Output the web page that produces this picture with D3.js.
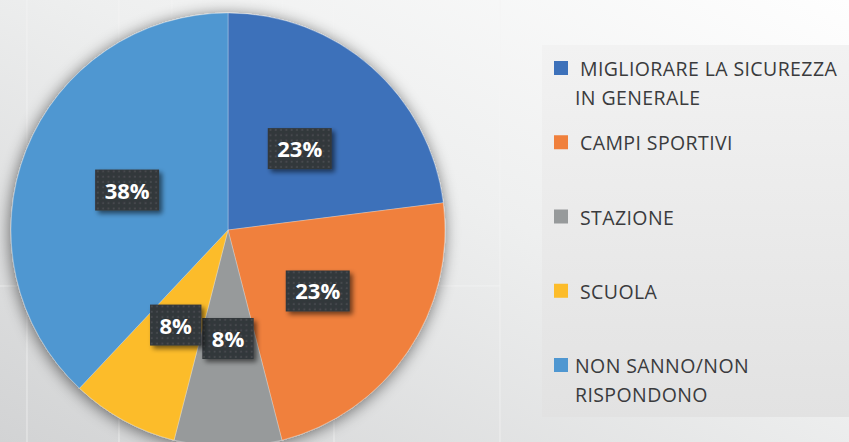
<!DOCTYPE html>
<html>
<head>
<meta charset="utf-8">
<script src="https://cdn.jsdelivr.net/npm/d3@7"></script>
<style>
  html, body { margin: 0; padding: 0; background: #eeeeee; }
  svg { display: block; }
</style>
</head>
<body>
<svg id="chart" width="849" height="442"></svg>
<script>
// Survey answers: what should be improved
const categories = [
  "MIGLIORARE LA SICUREZZA|IN GENERALE",
  "CAMPI SPORTIVI",
  "STAZIONE",
  "SCUOLA",
  "NON SANNO/NON|RISPONDONO"
];
const values = [23, 23, 8, 8, 38];
const valueLabels = ["23%", "23%", "8%", "8%", "38%"];
const colors = ["#3d71ba", "#f0803c", "#979a9b", "#fcbc2a", "#4f97d1"];

const W = 849, H = 442;
const svg = d3.select("#chart");
const defs = svg.append("defs");

// page background: light at top-right, greyer towards bottom-left
const bg = defs.append("linearGradient").attr("id", "bg")
  .attr("x1", "1").attr("y1", "0").attr("x2", "0").attr("y2", "1");
bg.append("stop").attr("offset", "0").attr("stop-color", "#fefefe");
bg.append("stop").attr("offset", "0.45").attr("stop-color", "#eeefef");
bg.append("stop").attr("offset", "1").attr("stop-color", "#d2d3d4");

const lg = defs.append("linearGradient").attr("id", "legbg")
  .attr("x1", "0").attr("y1", "0").attr("x2", "0").attr("y2", "1");
lg.append("stop").attr("offset", "0").attr("stop-color", "#f2f2f2");
lg.append("stop").attr("offset", "1").attr("stop-color", "#e2e2e2");

// soft halo under the pie
const halo = defs.append("filter").attr("id", "halo")
  .attr("x", "-20%").attr("y", "-20%").attr("width", "140%").attr("height", "140%");
halo.append("feGaussianBlur").attr("in", "SourceAlpha").attr("stdDeviation", 8).attr("result", "b");
halo.append("feOffset").attr("in", "b").attr("dx", -1).attr("dy", 2).attr("result", "o");
halo.append("feComponentTransfer").attr("in", "o").attr("result", "s")
  .append("feFuncA").attr("type", "linear").attr("slope", 0.55);
const hm = halo.append("feMerge");
hm.append("feMergeNode").attr("in", "s");
hm.append("feMergeNode").attr("in", "SourceGraphic");

// shadow for value boxes
const bs = defs.append("filter").attr("id", "boxshadow")
  .attr("x", "-30%").attr("y", "-30%").attr("width", "170%").attr("height", "170%");
bs.append("feGaussianBlur").attr("in", "SourceAlpha").attr("stdDeviation", 2.5).attr("result", "b");
bs.append("feOffset").attr("in", "b").attr("dx", 3).attr("dy", 3).attr("result", "o");
bs.append("feComponentTransfer").attr("in", "o").attr("result", "s")
  .append("feFuncA").attr("type", "linear").attr("slope", 0.55);
const bm = bs.append("feMerge");
bm.append("feMergeNode").attr("in", "s");
bm.append("feMergeNode").attr("in", "SourceGraphic");

// dotted texture on value boxes
const pat = defs.append("pattern").attr("id", "dots")
  .attr("patternUnits", "userSpaceOnUse").attr("width", 5.3).attr("height", 5.3);
pat.append("rect").attr("width", 5.3).attr("height", 5.3).attr("fill", "#33373b");
pat.append("rect").attr("x", 1.6).attr("y", 1.6).attr("width", 1.8).attr("height", 1.8).attr("fill", "#484c50");

svg.append("rect").attr("width", W).attr("height", H).attr("fill", "url(#bg)");

// faint grid of the underlying sheet
const gridX = [27, 119, 172, 283, 334, 500];
const gridY = [286];
svg.append("g").selectAll("line").data(gridX).join("line")
  .attr("x1", d => d).attr("x2", d => d).attr("y1", 0).attr("y2", H)
  .attr("stroke", "#f4f4f4").attr("stroke-width", 1).attr("opacity", 0.7);
svg.append("g").selectAll("line").data(gridY).join("line")
  .attr("x1", 0).attr("x2", 500).attr("y1", d => d).attr("y2", d => d)
  .attr("stroke", "#f4f4f4").attr("stroke-width", 1).attr("opacity", 0.7);

// pie
const cx = 228, cy = 230, R = 217;
const pie = d3.pie().sort(null).value(d => d.v);
const data = pie(values.map((v, i) => ({ v, i })));
const arc = d3.arc().innerRadius(0).outerRadius(R);

const g = svg.append("g").attr("transform", `translate(${cx},${cy})`);
g.append("g").attr("filter", "url(#halo)")
  .selectAll("path").data(data).join("path")
  .attr("d", arc)
  .attr("fill", d => colors[d.data.i])
  .attr("stroke", "rgba(255,255,255,0.35)")
  .attr("stroke-width", 0.8);

// value boxes at the slice centroids
const labels = g.append("g").selectAll("g").data(data).join("g")
  .attr("transform", d => { const c = arc.centroid(d); return `translate(${c[0]},${c[1]})`; });

labels.each(function(d) {
  const sel = d3.select(this);
  const t = sel.append("text")
    .attr("text-anchor", "middle")
    .attr("y", 8.5)
    .attr("font-family", "'Open Sans', sans-serif")
    .attr("font-weight", 700)
    .attr("font-size", 22)
    .attr("fill", "#ffffff")
    .text(valueLabels[d.data.i]);
  const w = t.node().getComputedTextLength() + 19;
  const h = 41;
  sel.insert("rect", "text")
    .attr("x", -w / 2).attr("y", -h / 2)
    .attr("width", w).attr("height", h)
    .attr("fill", "url(#dots)")
    .attr("filter", "url(#boxshadow)");
});

// legend
const legX = 542, legY = 45;
svg.append("rect").attr("x", legX).attr("y", legY)
  .attr("width", W - legX + 2).attr("height", 372)
  .attr("fill", "url(#legbg)");

const rowBase = d3.scalePoint().domain(d3.range(categories.length)).range([76, 373]);
const legend = svg.append("g").selectAll("g").data(categories).join("g")
  .attr("transform", (d, i) => `translate(0,${rowBase(i)})`);

legend.append("rect")
  .attr("x", 554).attr("y", -15).attr("width", 14).attr("height", 14)
  .attr("fill", (d, i) => colors[i]);

legend.each(function(d) {
  const lines = d.split("|");
  // first lines sit a little further right, except the last entry
  const firstX = d.startsWith("NON") ? 575 : 580;
  const t = d3.select(this).append("text")
    .attr("font-family", "'Open Sans', sans-serif")
    .attr("font-size", 19.5)
    .attr("letter-spacing", 0.4)
    .attr("fill", "#3a3b3d");
  lines.forEach((ln, j) => {
    t.append("tspan")
      .attr("x", j === 0 ? firstX : 575)
      .attr("y", j * 29)
      .text(ln);
  });
});
</script>
</body>
</html>
